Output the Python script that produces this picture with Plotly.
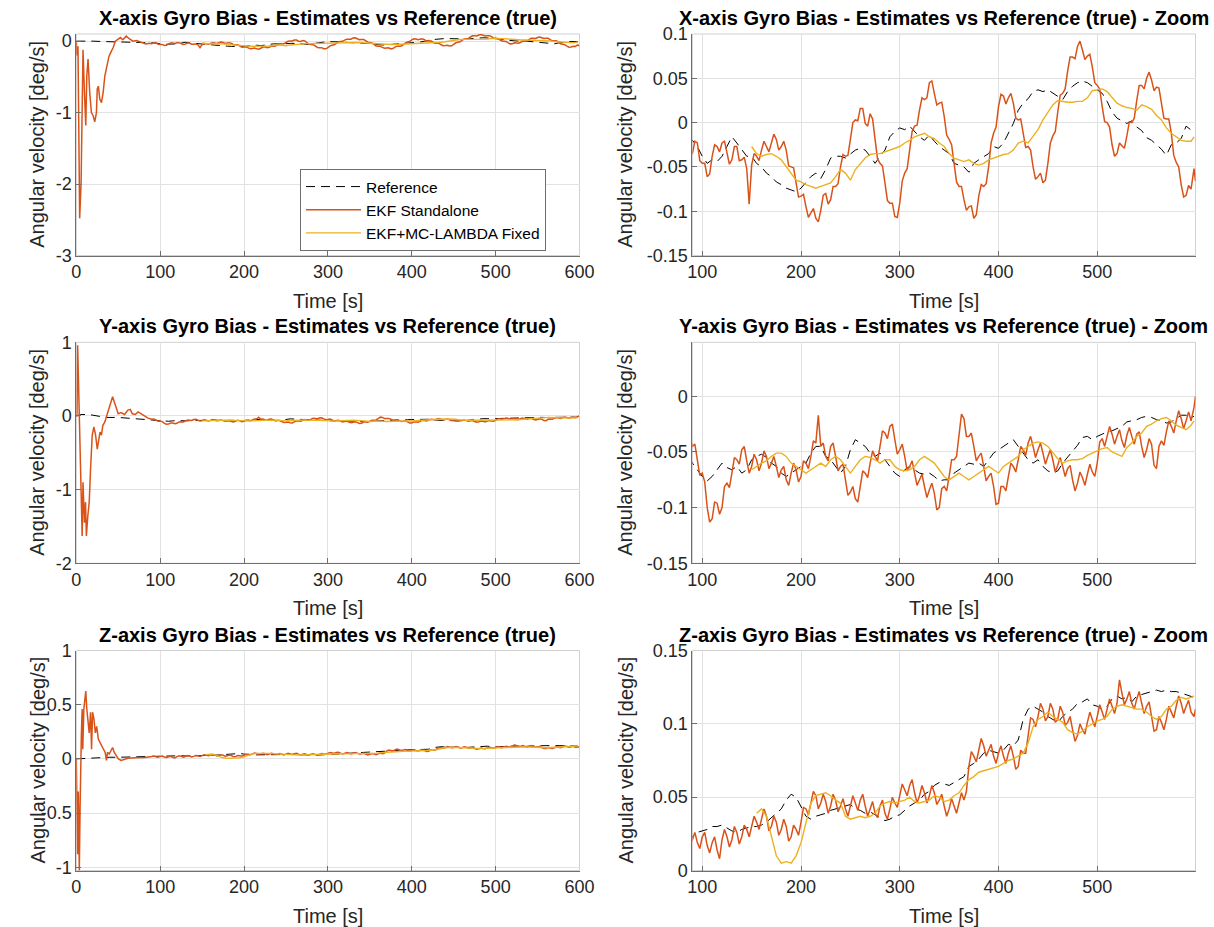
import plotly.graph_objects as go

# ---------------- data ----------------
T_MAIN = list(range(90, 600, 5))          # 90 ... 595 s
T_MID = [t + 2.5 for t in T_MAIN[:-1]]    # 92.5 ... 592.5 s (EKF jitter samples)
T_YX = list(range(150, 600, 5))           # yellow X / Y start at 150 s
T_YZ = list(range(155, 600, 5))           # yellow Z starts at 155 s

# ----- X axis -----
ref_x_tr_t = [0, 10, 20, 30, 40, 50, 60, 70, 80, 85]
ref_x_tr_v = [0.0, 0.003, 0.0, -0.005, -0.01, -0.015, -0.02, -0.025, -0.02, -0.02]
ref_x = [-0.020, -0.027, -0.038, -0.046, -0.042, -0.044, -0.038, -0.027, -0.016, -0.023,
         -0.031, -0.038, -0.038, -0.046, -0.050, -0.057, -0.061, -0.067, -0.070, -0.074,
         -0.076, -0.078, -0.074, -0.067, -0.061, -0.057, -0.063, -0.053, -0.040, -0.038,
         -0.038, -0.040, -0.035, -0.031, -0.029, -0.031, -0.038, -0.046, -0.038, -0.031,
         -0.016, -0.010, -0.006, -0.008, -0.004, -0.010, -0.016, -0.020, -0.014, -0.021,
         -0.027, -0.031, -0.035, -0.046, -0.048, -0.050, -0.056, -0.046, -0.042, -0.038,
         -0.035, -0.027, -0.029, -0.023, -0.012, -0.001, 0.014, 0.022, 0.027, 0.035,
         0.037, 0.035, 0.037, 0.033, 0.029, 0.026, 0.035, 0.041, 0.045, 0.047,
         0.045, 0.041, 0.038, 0.033, 0.024, 0.012, 0.005, 0.002, -0.001, 0.002,
         -0.005, -0.009, -0.017, -0.020, -0.025, -0.030, -0.037, -0.025, -0.023, -0.018,
         -0.004, -0.008]
ref_x_end_t = [598]
ref_x_end_v = [-0.011]

ekf_x_tr_t = [0, 0.8, 2, 3, 4, 5.7, 7, 8, 9.7, 11.3, 12.5, 14, 16, 18, 20, 22, 24, 25, 26.3,
              28, 30, 32, 34, 36.4, 39, 41, 44, 46.5, 49, 52.6, 55.5, 59.5, 63.5, 67.6, 71.7,
              77.7, 83, 87]
ekf_x_tr_v = [0.0, -0.2, -0.07, -1.18, -2.48, -2.0, -1.18, -0.12, -0.72, -1.18, -0.49, -0.25,
              -0.72, -1.0, -1.04, -1.13, -1.0, -0.67, -0.63, -0.81, -0.86, -0.72, -0.49, -0.35,
              -0.21, -0.16, -0.09, 0.0, 0.02, 0.05, 0.02, 0.07, 0.03, 0.0, 0.01, -0.015, -0.04,
              -0.03]
ekf_x = [-0.035, -0.023, -0.046, -0.061, -0.038, -0.027, -0.023, -0.035, -0.042, -0.027,
         -0.042, -0.052, -0.048, -0.038, -0.031, -0.027, -0.023, -0.019, -0.027, -0.031,
         -0.050, -0.068, -0.083, -0.095, -0.102, -0.108, -0.099, -0.080, -0.087, -0.072,
         -0.050, -0.038, -0.019, 0.003, 0.016, -0.001, 0.010, -0.019, -0.046, -0.068,
         -0.091, -0.106, -0.091, -0.057, -0.031, -0.004, 0.014, 0.026, 0.045, 0.033,
         0.022, 0.007, -0.019, -0.046, -0.072, -0.087, -0.095, -0.108, -0.083, -0.072,
         -0.050, -0.012, 0.018, 0.030, 0.028, 0.022, 0.003, -0.012, -0.027, -0.050,
         -0.061, -0.068, -0.046, -0.015, 0.012, 0.033, 0.058, 0.074, 0.086, 0.082,
         0.075, 0.063, 0.042, 0.018, 0.000, -0.025, -0.035, -0.026, -0.015, 0.000,
         0.025, 0.042, 0.050, 0.048, 0.040, 0.022, 0.004, -0.012, -0.045, -0.070,
         -0.082, -0.075]
ekf_x_mid = [-0.021, -0.043, -0.046, -0.058, -0.025, -0.033, -0.021, -0.047, -0.027, -0.043,
             -0.039, -0.092, -0.035, -0.043, -0.021, -0.033, -0.013, -0.031, -0.021, -0.049,
             -0.051, -0.084, -0.081, -0.107, -0.097, -0.112, -0.082, -0.092, -0.072, -0.069,
             -0.036, -0.037, 0.000, 0.002, 0.016, -0.004, 0.004, -0.041, -0.049, -0.088,
             -0.091, -0.107, -0.066, -0.052, -0.010, -0.003, 0.028, 0.028, 0.047, 0.020,
             0.023, -0.014, -0.025, -0.067, -0.072, -0.099, -0.094, -0.104, -0.070, -0.069,
             -0.023, -0.005, 0.032, 0.021, 0.033, 0.005, 0.004, -0.028, -0.031, -0.064,
             -0.057, -0.065, -0.023, -0.010, 0.031, 0.038, 0.074, 0.072, 0.092, 0.071,
             0.077, 0.045, 0.038, 0.001, -0.005, -0.038, -0.023, -0.029, 0.001, 0.005,
             0.042, 0.038, 0.057, 0.036, 0.039, 0.005, 0.004, -0.037, -0.050, -0.084,
             -0.071]
ekf_x_end_t = [598, 599.5]
ekf_x_end_v = [-0.052, -0.066]

fix_x = [-0.027, -0.035, -0.038, -0.036, -0.035, -0.038, -0.042, -0.050, -0.057, -0.065,
         -0.067, -0.070, -0.072, -0.074, -0.072, -0.070, -0.068, -0.061, -0.053, -0.057,
         -0.065, -0.053, -0.046, -0.040, -0.036, -0.035, -0.035, -0.033, -0.031, -0.029,
         -0.027, -0.023, -0.020, -0.016, -0.014, -0.012, -0.016, -0.018, -0.023, -0.027,
         -0.035, -0.040, -0.042, -0.044, -0.042, -0.046, -0.048, -0.046, -0.042, -0.040,
         -0.038, -0.036, -0.035, -0.031, -0.023, -0.021, -0.023, -0.016, -0.008, 0.003,
         0.012, 0.020, 0.025, 0.024, 0.023, 0.023, 0.024, 0.024, 0.028, 0.036,
         0.037, 0.038, 0.035, 0.029, 0.022, 0.019, 0.017, 0.016, 0.014, 0.020,
         0.018, 0.015, 0.008, 0.003, -0.006, -0.012, -0.016, -0.020, -0.021, -0.021]
fix_x_end_t = [598]
fix_x_end_v = [-0.016]

# ----- Y axis -----
ref_y_tr_t = [0, 5, 15, 25, 35, 50, 60, 70, 80, 87]
ref_y_tr_v = [0.0, 0.02, 0.02, 0.0, -0.02, -0.02, -0.03, -0.035, -0.045, -0.055]
ref_y = [-0.060, -0.066, -0.072, -0.076, -0.072, -0.066, -0.060, -0.064, -0.066, -0.063,
         -0.069, -0.066, -0.057, -0.054, -0.052, -0.055, -0.060, -0.063, -0.069, -0.072,
         -0.069, -0.066, -0.063, -0.060, -0.051, -0.045, -0.045, -0.054, -0.057, -0.063,
         -0.069, -0.063, -0.048, -0.039, -0.042, -0.045, -0.051, -0.054, -0.051, -0.057,
         -0.063, -0.069, -0.072, -0.066, -0.063, -0.066, -0.069, -0.070, -0.069, -0.072,
         -0.076, -0.075, -0.075, -0.069, -0.066, -0.063, -0.060, -0.061, -0.060, -0.063,
         -0.057, -0.051, -0.048, -0.045, -0.042, -0.039, -0.045, -0.051, -0.057, -0.060,
         -0.057, -0.063, -0.067, -0.069, -0.067, -0.060, -0.055, -0.050, -0.044, -0.037,
         -0.036, -0.039, -0.036, -0.034, -0.032, -0.031, -0.029, -0.027, -0.023, -0.022,
         -0.021, -0.019, -0.018, -0.019, -0.021, -0.022, -0.024, -0.023, -0.020, -0.017,
         -0.017, -0.019]
ref_y_end_t = [598]
ref_y_end_v = [-0.018]

ekf_y_tr_t = [0, 0.8, 1.6, 2.8, 4, 5.7, 7, 8, 9.7, 11, 12, 13.8, 15.4, 17, 19, 21, 23, 25,
              26.7, 28.3, 30, 31.6, 34, 36.4, 39.3, 41.3, 43.3, 45.3, 48, 50, 53.4, 57.5,
              61.5, 64.4, 66.8, 70.4, 73.7, 77, 81.8, 85.5]
ekf_y_tr_v = [0.0, 0.0, 0.96, 0.42, -0.04, -0.95, -1.63, -0.9, -1.45, -1.17, -1.63, -1.35,
              -1.17, -0.72, -0.26, -0.15, -0.26, -0.45, -0.35, -0.22, -0.26, -0.13, -0.08,
              0.01, 0.145, 0.21, 0.26, 0.19, 0.10, 0.03, 0.045, 0.02, 0.08, 0.09, 0.03, 0.02,
              0.055, 0.03, -0.014, -0.03]
ekf_y = [-0.045, -0.057, -0.069, -0.100, -0.110, -0.096, -0.100, -0.078, -0.069, -0.057,
         -0.048, -0.058, -0.063, -0.057, -0.060, -0.054, -0.060, -0.063, -0.066, -0.075,
         -0.069, -0.066, -0.072, -0.060, -0.054, -0.042, -0.045, -0.054, -0.045, -0.054,
         -0.063, -0.075, -0.086, -0.092, -0.081, -0.069, -0.060, -0.054, -0.045, -0.033,
         -0.027, -0.039, -0.048, -0.054, -0.063, -0.069, -0.075, -0.081, -0.084, -0.087,
         -0.100, -0.081, -0.072, -0.057, -0.035, -0.020, -0.036, -0.045, -0.054, -0.063,
         -0.072, -0.081, -0.096, -0.081, -0.072, -0.063, -0.057, -0.048, -0.042, -0.045,
         -0.048, -0.051, -0.054, -0.057, -0.062, -0.063, -0.065, -0.075, -0.078, -0.073,
         -0.070, -0.068, -0.060, -0.038, -0.036, -0.034, -0.036, -0.040, -0.035, -0.036,
         -0.034, -0.045, -0.048, -0.043, -0.065, -0.040, -0.032, -0.027, -0.022, -0.020,
         -0.022, -0.022]
ekf_y_mid = [-0.043, -0.071, -0.077, -0.113, -0.095, -0.106, -0.081, -0.082, -0.055, -0.061,
             -0.045, -0.069, -0.052, -0.067, -0.049, -0.065, -0.054, -0.073, -0.063, -0.080,
             -0.060, -0.077, -0.058, -0.065, -0.040, -0.017, -0.042, -0.058, -0.042, -0.067,
             -0.061, -0.089, -0.081, -0.095, -0.067, -0.073, -0.049, -0.058, -0.031, -0.038,
             -0.025, -0.052, -0.043, -0.067, -0.058, -0.080, -0.070, -0.091, -0.078, -0.102,
             -0.083, -0.085, -0.057, -0.054, -0.016, -0.036, -0.033, -0.058, -0.051, -0.076,
             -0.069, -0.097, -0.081, -0.085, -0.060, -0.068, -0.045, -0.053, -0.036, -0.055,
             -0.042, -0.061, -0.048, -0.068, -0.055, -0.072, -0.062, -0.085, -0.068, -0.080,
             -0.061, -0.072, -0.041, -0.045, -0.027, -0.043, -0.030, -0.046, -0.028, -0.043,
             -0.032, -0.055, -0.038, -0.062, -0.045, -0.044, -0.022, -0.033, -0.013, -0.029,
             -0.014]
ekf_y_end_t = [598, 599.5]
ekf_y_end_v = [-0.010, 0.000]

fix_y = [-0.066, -0.063, -0.060, -0.058, -0.054, -0.051, -0.051, -0.054, -0.060, -0.063,
         -0.066, -0.069, -0.066, -0.063, -0.060, -0.063, -0.057, -0.054, -0.057, -0.063,
         -0.069, -0.063, -0.057, -0.054, -0.055, -0.057, -0.060, -0.057, -0.057, -0.063,
         -0.066, -0.067, -0.066, -0.063, -0.057, -0.054, -0.057, -0.060, -0.066, -0.072,
         -0.075, -0.072, -0.069, -0.072, -0.075, -0.072, -0.069, -0.066, -0.063, -0.066,
         -0.069, -0.063, -0.060, -0.057, -0.054, -0.048, -0.045, -0.042, -0.041, -0.042,
         -0.045, -0.051, -0.056, -0.060, -0.058, -0.057, -0.057, -0.056, -0.053, -0.051,
         -0.049, -0.047, -0.046, -0.050, -0.052, -0.054, -0.046, -0.042, -0.036, -0.033,
         -0.027, -0.025, -0.022, -0.020, -0.019, -0.022, -0.026, -0.028, -0.030, -0.026]
fix_y_end_t = [598]
fix_y_end_v = [-0.022]

# ----- Z axis -----
ref_z_tr_t = [0, 10, 20, 30, 40, 50, 60, 70, 80, 87]
ref_z_tr_v = [0.0, 0.005, 0.01, 0.012, 0.015, 0.015, 0.017, 0.018, 0.02, 0.022]
ref_z = [0.023, 0.026, 0.027, 0.028, 0.030, 0.030, 0.031, 0.029, 0.027, 0.026,
         0.028, 0.029, 0.030, 0.030, 0.031, 0.033, 0.036, 0.039, 0.042, 0.048,
         0.052, 0.050, 0.044, 0.037, 0.035, 0.037, 0.038, 0.039, 0.041, 0.042,
         0.043, 0.044, 0.045, 0.042, 0.041, 0.039, 0.040, 0.038, 0.036, 0.034,
         0.035, 0.037, 0.038, 0.041, 0.044, 0.046, 0.048, 0.052, 0.054, 0.058,
         0.060, 0.059, 0.058, 0.060, 0.062, 0.064, 0.071, 0.073, 0.076, 0.080,
         0.082, 0.081, 0.080, 0.082, 0.086, 0.085, 0.089, 0.103, 0.110, 0.112,
         0.110, 0.108, 0.105, 0.103, 0.101, 0.105, 0.108, 0.110, 0.114, 0.115,
         0.117, 0.113, 0.112, 0.110, 0.112, 0.117, 0.119, 0.117, 0.118, 0.115,
         0.119, 0.120, 0.121, 0.122, 0.123, 0.122, 0.123, 0.122, 0.122, 0.121,
         0.120, 0.119]
ref_z_end_t = [598]
ref_z_end_v = [0.118]

ekf_z_tr_t = [0, 0.8, 1.6, 2.4, 3.2, 3.6, 4.5, 5.3, 6, 7, 7.7, 9, 10, 11.3, 12.5, 14, 15.4, 17,
              18.2, 19.4, 21, 22.7, 24.3, 26.3, 28.3, 30.4, 32.4, 34.4, 36, 37.2, 39.3, 41.3,
              43.3, 45.3, 47.4, 50.2, 53.4, 57.5, 61.5, 69.6, 81.8]
ekf_z_tr_v = [0.0, -0.76, -0.88, -0.30, -1.0, -1.03, -0.46, 0.0, 0.21, 0.46, 0.09, 0.46,
              0.55, 0.625, 0.46, 0.30, 0.24, 0.43, 0.09, 0.43, 0.37, 0.24, 0.30, 0.18, 0.15,
              0.12, 0.09, 0.06, -0.015, 0.06, 0.045, 0.075, 0.105, 0.06, 0.03, 0.0, -0.015,
              -0.006, 0.006, 0.01, 0.012]
ekf_z = [0.021, 0.019, 0.023, 0.017, 0.019, 0.014, 0.021, 0.023, 0.021, 0.026,
         0.023, 0.028, 0.030, 0.033, 0.035, 0.037, 0.030, 0.033, 0.028, 0.030,
         0.023, 0.028, 0.033, 0.042, 0.046, 0.051, 0.046, 0.047, 0.044, 0.048,
         0.044, 0.042, 0.044, 0.046, 0.048, 0.044, 0.042, 0.039, 0.044, 0.039,
         0.042, 0.046, 0.051, 0.055, 0.058, 0.053, 0.051, 0.053, 0.051, 0.053,
         0.048, 0.044, 0.042, 0.044, 0.046, 0.048, 0.071, 0.078, 0.082, 0.085,
         0.082, 0.078, 0.080, 0.078, 0.080, 0.078, 0.071, 0.080, 0.092, 0.103,
         0.105, 0.110, 0.105, 0.110, 0.103, 0.108, 0.101, 0.096, 0.092, 0.096,
         0.101, 0.103, 0.105, 0.108, 0.110, 0.112, 0.114, 0.121, 0.117, 0.114,
         0.117, 0.114, 0.112, 0.105, 0.096, 0.101, 0.103, 0.108, 0.112, 0.114,
         0.112, 0.108]
ekf_z_mid = [0.026, 0.015, 0.026, 0.012, 0.023, 0.008, 0.028, 0.016, 0.030, 0.018,
             0.031, 0.023, 0.037, 0.028, 0.042, 0.027, 0.037, 0.024, 0.035, 0.020,
             0.031, 0.024, 0.043, 0.038, 0.054, 0.042, 0.052, 0.039, 0.052, 0.040,
             0.049, 0.037, 0.051, 0.041, 0.052, 0.037, 0.047, 0.036, 0.048, 0.035,
             0.050, 0.043, 0.059, 0.051, 0.062, 0.046, 0.058, 0.046, 0.058, 0.045,
             0.052, 0.037, 0.049, 0.039, 0.053, 0.054, 0.081, 0.074, 0.090, 0.078,
             0.086, 0.073, 0.085, 0.073, 0.085, 0.069, 0.082, 0.080, 0.104, 0.098,
             0.114, 0.102, 0.114, 0.101, 0.112, 0.099, 0.105, 0.088, 0.100, 0.093,
             0.108, 0.098, 0.113, 0.103, 0.117, 0.107, 0.130, 0.113, 0.122, 0.110,
             0.122, 0.107, 0.115, 0.095, 0.105, 0.096, 0.112, 0.104, 0.119, 0.107,
             0.116]
ekf_z_end_t = [598, 599.5]
ekf_z_end_v = [0.105, 0.110]

fix_z = [0.039, 0.042, 0.037, 0.023, 0.010, 0.005, 0.006, 0.005, 0.010, 0.019,
         0.033, 0.046, 0.051, 0.052, 0.053, 0.051, 0.048, 0.046, 0.037, 0.035,
         0.036, 0.037, 0.036, 0.037, 0.039, 0.044, 0.046, 0.047, 0.046, 0.047,
         0.048, 0.050, 0.047, 0.046, 0.047, 0.048, 0.051, 0.050, 0.047, 0.048,
         0.051, 0.053, 0.058, 0.062, 0.064, 0.067, 0.068, 0.069, 0.070, 0.071,
         0.073, 0.075, 0.076, 0.078, 0.080, 0.087, 0.098, 0.103, 0.105, 0.108,
         0.105, 0.103, 0.101, 0.096, 0.094, 0.093, 0.095, 0.098, 0.100, 0.102,
         0.103, 0.105, 0.110, 0.112, 0.113, 0.112, 0.111, 0.110, 0.110, 0.108,
         0.105, 0.103, 0.105, 0.110, 0.112, 0.116, 0.118, 0.117, 0.118]
fix_z_end_t = [598]
fix_z_end_v = [0.119]

AXES = ["X", "Y", "Z"]
LEFT_YTICKS = [[-3, -2, -1, 0], [-2, -1, 0, 1], [-1, -0.5, 0, 0.5, 1]]
LEFT_YRANGE = [[-3, 0.1], [-2, 1], [-1.03, 1]]
RIGHT_YTICKS = [[-0.15, -0.1, -0.05, 0, 0.05, 0.1], [-0.15, -0.1, -0.05, 0], [0, 0.05, 0.1, 0.15]]
RIGHT_YRANGE = [[-0.15, 0.1], [-0.15, 0.0485], [0, 0.15]]
LEFT_XTICKS = [0, 100, 200, 300, 400, 500, 600]
RIGHT_XTICKS = [100, 200, 300, 400, 500]
SERIES_NAMES = ["Reference", "EKF Standalone", "EKF+MC-LAMBDA Fixed"]


# ---------------- assemble ----------------
def merged(*pairs):
    pts = []
    for ts, vs in pairs:
        pts.extend(zip(ts, vs))
    pts.sort(key=lambda p: p[0])
    return [p[0] for p in pts], [p[1] for p in pts]


ref_sets = [
    merged((ref_x_tr_t, ref_x_tr_v), (T_MAIN, ref_x), (ref_x_end_t, ref_x_end_v)),
    merged((ref_y_tr_t, ref_y_tr_v), (T_MAIN, ref_y), (ref_y_end_t, ref_y_end_v)),
    merged((ref_z_tr_t, ref_z_tr_v), (T_MAIN, ref_z), (ref_z_end_t, ref_z_end_v)),
]
ekf_sets = [
    merged((ekf_x_tr_t, ekf_x_tr_v), (T_MAIN, ekf_x), (T_MID, ekf_x_mid), (ekf_x_end_t, ekf_x_end_v)),
    merged((ekf_y_tr_t, ekf_y_tr_v), (T_MAIN, ekf_y), (T_MID, ekf_y_mid), (ekf_y_end_t, ekf_y_end_v)),
    merged((ekf_z_tr_t, ekf_z_tr_v), (T_MAIN, ekf_z), (T_MID, ekf_z_mid), (ekf_z_end_t, ekf_z_end_v)),
]
fix_sets = [
    merged((T_YX, fix_x), (fix_x_end_t, fix_x_end_v)),
    merged((T_YX, fix_y), (fix_y_end_t, fix_y_end_v)),
    merged((T_YZ, fix_z), (fix_z_end_t, fix_z_end_v)),
]

W, H = 1214, 927
FONT = "Liberation Sans, Arial, Helvetica, sans-serif"
TXT = "#262626"
AX = "#6f6f6f"
GRID = "#e2e2e2"
C_REF = "#000000"
C_EKF = "#D95319"
C_FIX = "#EDB120"

# pixel geometry (top/bottom of each row, left/right of each column)
ROWS = [(34, 255.5), (342.3, 563.3), (650.5, 870.5)]
COLS = [(76.3, 579.5), (692.4, 1195.5)]


def ydom(r):
    top, bot = ROWS[r]
    return [1 - bot / H, 1 - top / H]


def xdom(c):
    l, r = COLS[c]
    return [l / W, r / W]


fig = go.Figure()
layout = {}
annotations = []
shapes = []

for r in range(3):
    for c in range(2):
        k = r * 2 + c + 1
        xa = "x" if k == 1 else f"x{k}"
        ya = "y" if k == 1 else f"y{k}"
        first = (k == 1)
        rt, rv = ref_sets[r]
        et, ev = ekf_sets[r]
        ft, fv = fix_sets[r]
        fig.add_trace(go.Scatter(x=rt, y=rv, mode="lines", name=SERIES_NAMES[0],
                                 line=dict(color=C_REF, width=1.0, dash="9px,6px"),
                                 xaxis=xa, yaxis=ya, showlegend=first, legendrank=1))
        fig.add_trace(go.Scatter(x=et, y=ev, mode="lines", name=SERIES_NAMES[1],
                                 line=dict(color=C_EKF, width=1.5),
                                 xaxis=xa, yaxis=ya, showlegend=first, legendrank=2))
        fig.add_trace(go.Scatter(x=ft, y=fv, mode="lines", name=SERIES_NAMES[2],
                                 line=dict(color=C_FIX, width=1.4),
                                 xaxis=xa, yaxis=ya, showlegend=first, legendrank=3))

        common = dict(showline=True, linecolor=AX, linewidth=1, ticks="inside", ticklen=5,
                      tickcolor=AX, showgrid=True, gridcolor=GRID, gridwidth=1,
                      zeroline=False, automargin=False,
                      tickfont=dict(family=FONT, size=18, color=TXT))
        if c == 0:
            xr, xt = [0, 600], LEFT_XTICKS
            yr, yt = LEFT_YRANGE[r], LEFT_YTICKS[r]
        else:
            xr, xt = [90, 599.5], RIGHT_XTICKS
            yr, yt = RIGHT_YRANGE[r], RIGHT_YTICKS[r]
        layout["xaxis" if k == 1 else f"xaxis{k}"] = dict(
            common, domain=xdom(c), range=xr, tickvals=xt,
            ticktext=[str(v) for v in xt], anchor=ya)
        layout["yaxis" if k == 1 else f"yaxis{k}"] = dict(
            common, domain=ydom(r), range=yr, tickvals=yt,
            ticktext=[("%g" % v) for v in yt], anchor=xa)

        # light box on top/right
        shapes.append(dict(type="rect", xref=f"{xa} domain", yref=f"{ya} domain",
                           x0=0, x1=1, y0=0, y1=1, line=dict(color="#d0d0d0", width=1),
                           layer="below"))

        l, rr = COLS[c]
        top, bot = ROWS[r]
        cx = (l + rr) / 2 / W
        title = f"{AXES[r]}-axis Gyro Bias - Estimates vs Reference (true)"
        if c == 1:
            title += " - Zoom"
        annotations.append(dict(text=f"<b>{title}</b>", xref="paper", yref="paper",
                                x=cx, y=1 - (top - 3) / H, xanchor="center", yanchor="bottom",
                                showarrow=False, font=dict(family=FONT, size=20, color="#000000")))
        annotations.append(dict(text="Time [s]", xref="paper", yref="paper",
                                x=cx, y=1 - (bot + 45) / H, xanchor="center", yanchor="middle",
                                showarrow=False, font=dict(family=FONT, size=20, color=TXT)))
        lab_x = 37 if c == 0 else 625
        annotations.append(dict(text="Angular velocity [deg/s]", xref="paper", yref="paper",
                                x=lab_x / W, y=1 - (top + bot) / 2 / H, xanchor="center",
                                yanchor="middle", textangle=-90, showarrow=False,
                                font=dict(family=FONT, size=20, color=TXT)))

fig.update_layout(
    **layout,
    width=W, height=H,
    margin=dict(l=0, r=0, t=0, b=0),
    paper_bgcolor="white", plot_bgcolor="white",
    annotations=annotations, shapes=shapes,
    showlegend=True,
    legend=dict(x=300 / W, y=1 - 169 / H, xanchor="left", yanchor="top",
                bgcolor="white", bordercolor="#6e6e6e", borderwidth=1,
                font=dict(family=FONT, size=15.5, color="#000000"),
                tracegroupgap=0, itemwidth=55),
)

fig.write_html("out.html")
